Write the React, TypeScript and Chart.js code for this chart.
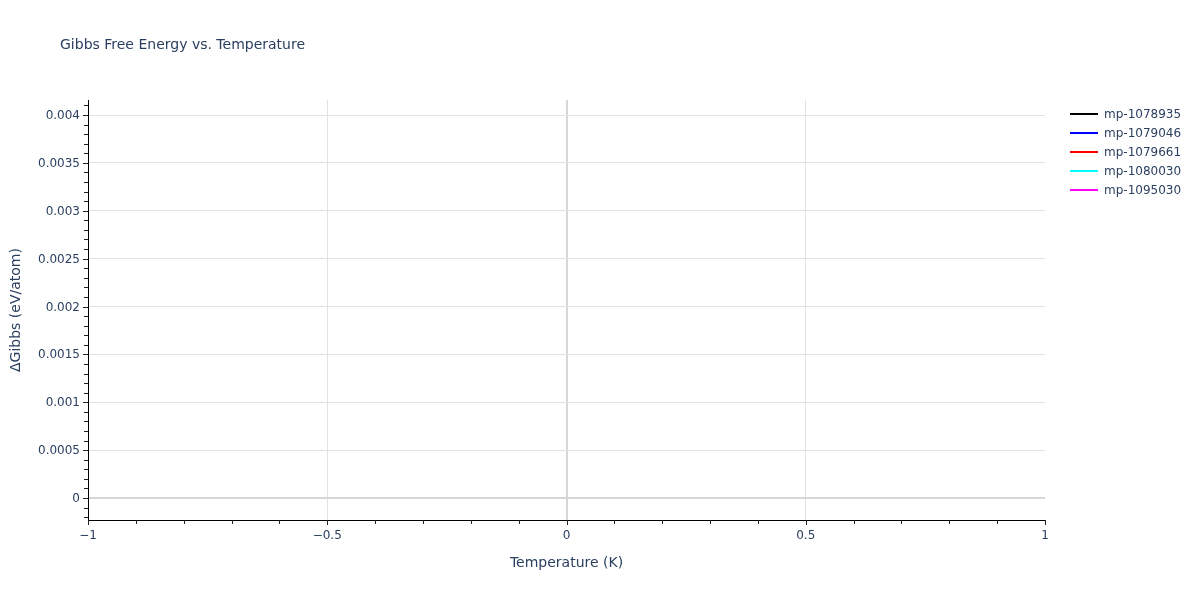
import React, { useEffect, useRef } from 'react'
import { Chart, registerables } from 'chart.js'

Chart.register(...registerables)

// series (all materials sit at a single point, T = 0 K, ΔG = 0)
const materials = ['mp-1078935', 'mp-1079046', 'mp-1079661', 'mp-1080030', 'mp-1095030']
const lineColors = ['#000000', '#0000ff', '#ff0000', '#00ffff', '#ff00ff']
const temperatures = [0]
const gibbs1078935 = [0]
const gibbs1079046 = [0]
const gibbs1079661 = [0]
const gibbs1080030 = [0]
const gibbs1095030 = [0]
const seriesValues = [gibbs1078935, gibbs1079046, gibbs1079661, gibbs1080030, gibbs1095030]

// axes
const xTicks = [-1, -0.5, 0, 0.5, 1]
const xTickLabels = ['\u22121', '\u22120.5', '0', '0.5', '1']
const yTicks = [0, 0.0005, 0.001, 0.0015, 0.002, 0.0025, 0.003, 0.0035, 0.004]
const yTickLabels = ['0', '0.0005', '0.001', '0.0015', '0.002', '0.0025', '0.003', '0.0035', '0.004']
const xRange = [-1, 1]
const yRange = [-0.00023, 0.004157]
const xMinorStep = 0.1
const yMinorStep = 0.0001

const FONT = "'DejaVu Sans', Verdana, sans-serif"
const TEXT = '#2a3f5f'
const GRID = '#e2e2e2'
const ZERO = '#d6d6d6'

const decorations = {
  id: 'decorations',
  afterDraw(chart: Chart) {
    const { ctx, chartArea } = chart
    const xs = chart.scales.x
    const ys = chart.scales.y
    ctx.save()

    // tick marks (major + minor), outside the axes
    ctx.strokeStyle = '#222'
    ctx.lineWidth = 1
    const nx = Math.round((xRange[1] - xRange[0]) / xMinorStep)
    for (let i = 0; i <= nx; i++) {
      const v = xRange[0] + i * xMinorStep
      const major = xTicks.some(t => Math.abs(t - v) < 1e-9)
      const px = Math.round(xs.getPixelForValue(v)) + 0.5
      ctx.beginPath()
      ctx.moveTo(px, chartArea.bottom)
      ctx.lineTo(px, chartArea.bottom + (major ? 5 : 4))
      ctx.stroke()
    }
    const iStart = Math.ceil(yRange[0] / yMinorStep)
    const iEnd = Math.floor(yRange[1] / yMinorStep)
    for (let i = iStart; i <= iEnd; i++) {
      const v = i * yMinorStep
      const major = yTicks.some(t => Math.abs(t - v) < 1e-9)
      const py = Math.round(ys.getPixelForValue(v)) + 0.5
      ctx.beginPath()
      ctx.moveTo(chartArea.left, py)
      ctx.lineTo(chartArea.left - (major ? 5 : 4), py)
      ctx.stroke()
    }

    // title
    ctx.fillStyle = TEXT
    ctx.font = `14px ${FONT}`
    ctx.textAlign = 'left'
    ctx.textBaseline = 'middle'
    ctx.fillText('Gibbs Free Energy vs. Temperature', 60, 45)

    // axis titles
    ctx.textAlign = 'center'
    ctx.fillText('Temperature (K)', (chartArea.left + chartArea.right) / 2, 563)
    ctx.save()
    ctx.translate(16, (chartArea.top + chartArea.bottom) / 2)
    ctx.rotate(-Math.PI / 2)
    ctx.fillText('\u0394Gibbs (eV/atom)', 0, 0)
    ctx.restore()

    // legend
    ctx.font = `12px ${FONT}`
    ctx.textAlign = 'left'
    chart.data.datasets.forEach((ds, i) => {
      const y = 114 + i * 19
      ctx.strokeStyle = ds.borderColor as string
      ctx.lineWidth = 2
      ctx.beginPath()
      ctx.moveTo(1070, y)
      ctx.lineTo(1098, y)
      ctx.stroke()
      ctx.fillStyle = TEXT
      ctx.fillText(ds.label as string, 1104, y + 1)
    })
    ctx.restore()
  },
}

export default function App() {
  const canvasRef = useRef<HTMLCanvasElement>(null)

  useEffect(() => {
    if (!canvasRef.current) return
    const chart = new Chart(canvasRef.current, {
      type: 'scatter',
      data: {
        datasets: materials.map((m, k) => ({
          label: m,
          data: temperatures.map((t, i) => ({ x: t, y: seriesValues[k][i] })),
          showLine: true,
          borderColor: lineColors[k],
          backgroundColor: lineColors[k],
          borderWidth: 2,
          pointRadius: 0,
        })),
      },
      options: {
        responsive: false,
        animation: false,
        layout: { padding: { left: 0, top: 100, right: 155, bottom: 50 } },
        plugins: {
          legend: { display: false },
          title: { display: false },
          tooltip: { enabled: false },
        },
        scales: {
          x: {
            type: 'linear',
            min: xRange[0],
            max: xRange[1],
            afterBuildTicks: (s: any) => { s.ticks = xTicks.map(v => ({ value: v })) },
            afterFit: (s: any) => { s.height = 30 },
            ticks: {
              autoSkip: false,
              maxRotation: 0,
              padding: 9,
              color: TEXT,
              font: { family: FONT, size: 12 },
              callback: (_v: any, i: number) => xTickLabels[i],
            },
            grid: {
              drawTicks: false,
              color: (c: any) => (c.tick && c.tick.value === 0 ? ZERO : Math.abs(c.tick?.value) === 1 ? 'rgba(0,0,0,0)' : GRID),
              lineWidth: (c: any) => (c.tick && c.tick.value === 0 ? 2 : 1),
            },
            border: { display: true, color: '#000', width: 1 },
          },
          y: {
            type: 'linear',
            min: yRange[0],
            max: yRange[1],
            afterBuildTicks: (s: any) => { s.ticks = yTicks.map(v => ({ value: v })) },
            afterFit: (s: any) => { s.width = 88 },
            ticks: {
              autoSkip: false,
              padding: 8,
              labelOffset: 1,
              color: TEXT,
              font: { family: FONT, size: 12 },
              callback: (_v: any, i: number) => yTickLabels[i],
            },
            grid: {
              drawTicks: false,
              color: (c: any) => (c.tick && c.tick.value === 0 ? ZERO : GRID),
              lineWidth: (c: any) => (c.tick && c.tick.value === 0 ? 2 : 1),
            },
            border: { display: true, color: '#000', width: 1 },
          },
        },
      },
      plugins: [decorations],
    })
    return () => chart.destroy()
  }, [])

  return (
    <div style={{ position: 'absolute', left: 0, top: 0, width: 1200, height: 600, background: '#fff' }}>
      <canvas ref={canvasRef} width={1200} height={600} />
    </div>
  )
}
